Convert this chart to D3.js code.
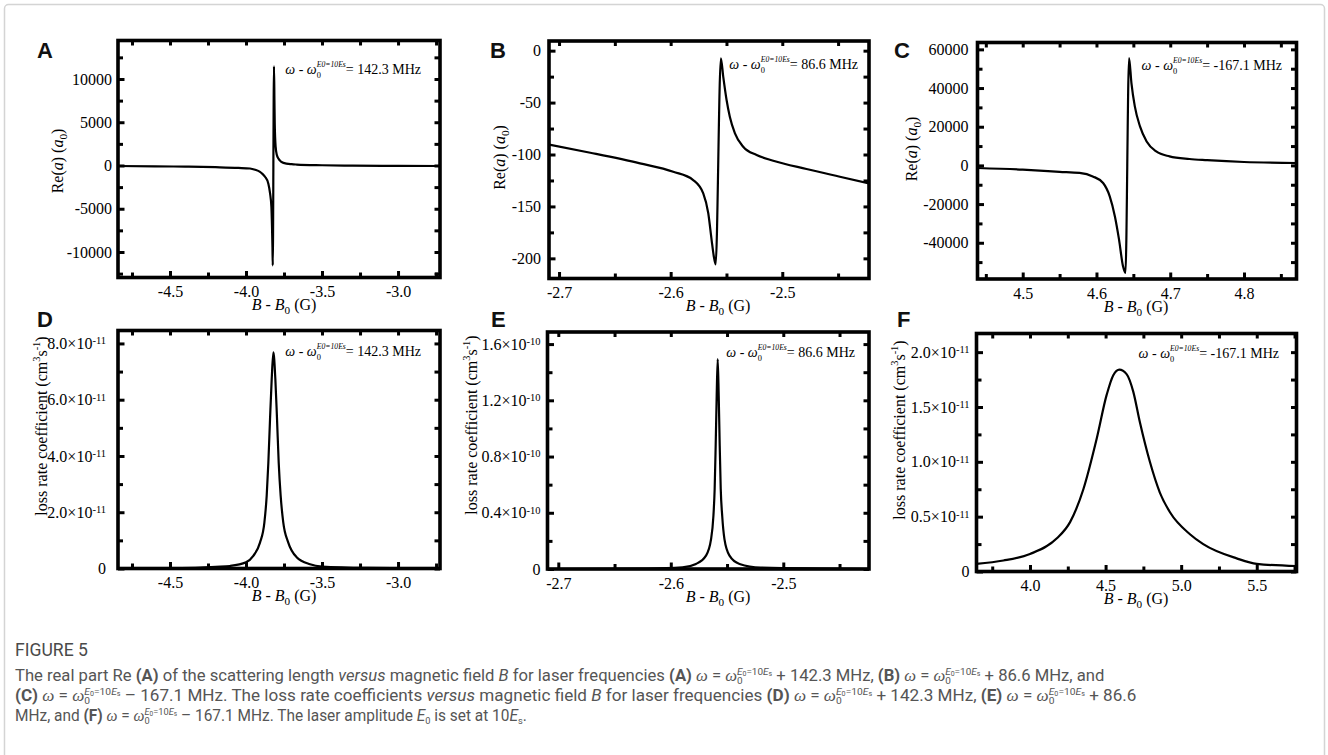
<!DOCTYPE html>
<html>
<head>
<meta charset="utf-8">
<script src="https://cdn.jsdelivr.net/npm/d3@7"></script>
<style>
  body { margin: 0; background: #fff; }
  svg text { white-space: pre; }
</style>
</head>
<body>
<svg id="fig" width="1328" height="755"></svg>
<script>
const SERIF = "'Liberation Serif', 'Times New Roman', serif";
const SANS = "'Liberation Sans', Arial, sans-serif";
const NARROW = "'Liberation Sans Narrow', 'Roboto', 'Liberation Sans', sans-serif";

// curves: [B - B0 (G), value]
const reA = [[-4.842, -60], [-4.6, -100], [-4.4, -130], [-4.2, -200], [-4.05, -280], [-3.974, -350],
  [-3.94, -500], [-3.908, -740], [-3.89, -1000], [-3.875, -1300], [-3.853, -2100], [-3.842, -3200],
  [-3.833, -4800], [-3.829, -7100], [-3.826, -9500], [-3.824, -11550], [-3.816, 11470], [-3.813, 7500],
  [-3.811, 4850], [-3.805, 2150], [-3.797, 1200], [-3.787, 800], [-3.77, 450], [-3.754, 300],
  [-3.7, 150], [-3.666, 110], [-3.5, 30], [-3.3, -20], [-3.0, -40], [-2.724, -60]];
const reB = [[-2.709, -90.5], [-2.672, -98.3], [-2.6275, -108.5], [-2.5977, -116.6], [-2.5798, -124.6],
  [-2.5708, -137.4], [-2.5663, -156.6], [-2.5633, -182.4], [-2.5615, -197], [-2.5597, -205.8],
  [-2.555, -7.3], [-2.5529, -25], [-2.5499, -47.5], [-2.547, -63.6], [-2.5424, -79.6], [-2.535, -92.5],
  [-2.523, -100.5], [-2.5081, -106], [-2.4783, -114], [-2.4484, -121.4], [-2.4223, -127.8]];
const reC = [[4.4387, -1340], [4.5, -2200], [4.55, -3300], [4.577, -3900], [4.595, -5700], [4.609, -9100],
  [4.618, -16000], [4.625, -26400], [4.6306, -38400], [4.636, -52200], [4.6393, -55600], [4.6442, 55500],
  [4.6474, 42600], [4.652, 30500], [4.659, 20200], [4.668, 12400], [4.681, 7200], [4.699, 4650],
  [4.726, 3300], [4.75, 2700], [4.8, 1750], [4.8712, 1240]];
const lossD = [[-4.842, 0], [-4.5, 0.01e-11], [-4.3, 0.03e-11], [-4.2, 0.06e-11], [-4.105, 0.09e-11],
  [-4.0, 0.22e-11], [-3.952, 0.45e-11], [-3.908, 0.92e-11], [-3.879, 1.64e-11], [-3.864, 2.58e-11],
  [-3.853, 3.77e-11], [-3.842, 5.31e-11], [-3.831, 6.73e-11], [-3.82, 7.68e-11], [-3.807, 6.73e-11],
  [-3.796, 5.31e-11], [-3.785, 3.77e-11], [-3.772, 2.58e-11], [-3.755, 1.64e-11], [-3.722, 0.92e-11],
  [-3.667, 0.40e-11], [-3.579, 0.15e-11], [-3.5, 0.07e-11], [-3.2, 0.02e-11], [-2.724, 0]];
const lossE = [[-2.7096, 0], [-2.62, 0.003e-10], [-2.5896, 0.012e-10], [-2.5776, 0.036e-10],
  [-2.5687, 0.095e-10], [-2.5642, 0.213e-10], [-2.5621, 0.379e-10], [-2.561, 0.569e-10],
  [-2.5601, 0.877e-10], [-2.5592, 1.232e-10], [-2.5583, 1.493e-10], [-2.5574, 1.232e-10],
  [-2.5565, 0.877e-10], [-2.5556, 0.569e-10], [-2.5543, 0.379e-10], [-2.5523, 0.213e-10],
  [-2.5478, 0.095e-10], [-2.5389, 0.036e-10], [-2.52, 0.01e-10], [-2.4238, 0]];
const lossF = [[3.646, 0.07e-11], [3.824, 0.10e-11], [4.0, 0.16e-11], [4.176, 0.30e-11], [4.265, 0.45e-11],
  [4.353, 0.75e-11], [4.441, 1.21e-11], [4.507, 1.61e-11], [4.551, 1.79e-11], [4.591, 1.84e-11],
  [4.639, 1.80e-11], [4.683, 1.64e-11], [4.727, 1.36e-11], [4.793, 1.00e-11], [4.859, 0.72e-11],
  [4.926, 0.54e-11], [5.058, 0.34e-11], [5.146, 0.25e-11], [5.367, 0.12e-11], [5.5, 0.07e-11],
  [5.763, 0.05e-11]];

// tick values
const xTicksA = [-4.5, -4.0, -3.5, -3.0], xMinorA = [-4.75, -4.25, -3.75, -3.25, -2.75];
const xTicksB = [-2.7, -2.6, -2.5], xMinorB = [-2.65, -2.55, -2.45];
const xTicksC = [4.5, 4.6, 4.7, 4.8], xMinorC = [4.45, 4.55, 4.65, 4.75, 4.85];
const xTicksF = [4.0, 4.5, 5.0, 5.5], xMinorF = [3.75, 4.25, 4.75, 5.25, 5.75];
const yTicksA = [-10000, -5000, 0, 5000, 10000], yMinorA = [-12500, -7500, -2500, 2500, 7500, 12500];
const yTicksB = [-200, -150, -100, -50, 0], yMinorB = [-175, -125, -75, -25];
const yTicksC = [-40000, -20000, 0, 20000, 40000, 60000], yMinorC = [-50000, -30000, -10000, 10000, 30000, 50000];
const yTicksD = [0, 2e-11, 4e-11, 6e-11, 8e-11], yMinorD = [1e-11, 3e-11, 5e-11, 7e-11];
const yTicksE = [0, 0.4e-10, 0.8e-10, 1.2e-10, 1.6e-10], yMinorE = [0.2e-10, 0.6e-10, 1.0e-10, 1.4e-10];
const yTicksF = [0, 0.5e-11, 1.0e-11, 1.5e-11, 2.0e-11], yMinorF = [0.25e-11, 0.75e-11, 1.25e-11, 1.75e-11];

const panelIds = ["A", "B", "C", "D", "E", "F"];
const detunings = ["142.3", "86.6", "-167.1", "142.3", "86.6", "-167.1"];

// rich text: segments {t, st, w, off (em), sz, back, fam}
function richText(sel, segs, fs) {
  let cur = 0, prevW = 0;
  segs.forEach(s => {
    const off = (s.off || 0) * fs;
    const ts = sel.append("tspan")
      .attr("dy", off - cur)
      .attr("font-size", fs * (s.sz || 1))
      .text(s.t);
    if (s.st) ts.attr("font-style", s.st);
    if (s.w) ts.attr("font-weight", s.w);
    if (s.fam) ts.attr("font-family", s.fam);
    if (s.back) ts.attr("dx", -prevW);
    cur = off;
    prevW = ts.node().getComputedTextLength();
  });
}

const svg = d3.select("#fig");
svg.append("rect").attr("width", 1328).attr("height", 755).attr("fill", "#fff");
svg.append("rect").attr("x", 4.5).attr("y", 4.5).attr("width", 1320).attr("height", 780)
  .attr("rx", 4).attr("fill", "none").attr("stroke", "#d4d4d4").attr("stroke-width", 1.5);

const panels = [
  { data: reA, box: [118, 40.5, 440, 277.5], xd: [-4.842, -2.724], yd: [-12950, 14450],
    xt: xTicksA, xm: xMinorA, yt: yTicksA, ym: yMinorA, exp: null, pad: 6,
    xTitle: 284, yTitle: [63, 161], note: [421, 73.5], lab: [37, 58] },
  { data: reB, box: [549, 41, 869, 278.5], xd: [-2.709, -2.4223], yd: [-219.4, 9.3],
    xt: xTicksB, xm: xMinorB, yt: yTicksB, ym: yMinorB, exp: null, pad: 8,
    xTitle: 718, yTitle: [504.5, 157.5], note: [858, 68.5], lab: [490, 58] },
  { data: reC, box: [977.5, 42.5, 1296.5, 279], xd: [4.4387, 4.8712], yd: [-58740, 63550],
    xt: xTicksC, xm: xMinorC, yt: yTicksC, ym: yMinorC, exp: null, pad: 9,
    xTitle: 1136, yTitle: [916.5, 149], note: [1282, 70], lab: [894, 58] },
  { data: lossD, box: [118, 330.5, 440, 568.5], xd: [-4.842, -2.724], yd: [0, 8.46e-11],
    xt: xTicksA, xm: xMinorA, yt: yTicksD, ym: yMinorD, exp: -11, pad: 12,
    xTitle: 284, yTitle: [46.5, 426], note: [421, 355.5], lab: [37, 327] },
  { data: lossE, box: [547.5, 332, 869, 569], xd: [-2.7096, -2.4238], yd: [0, 1.686e-10],
    xt: xTicksB, xm: xMinorB, yt: yTicksE, ym: yMinorE, exp: -10, pad: 7,
    xTitle: 718, yTitle: [476.5, 425], note: [855, 357], lab: [491, 327] },
  { data: lossF, box: [976.5, 333.5, 1296.5, 571.5], xd: [3.646, 5.763], yd: [0, 2.17e-11],
    xt: xTicksF, xm: xMinorF, yt: yTicksF, ym: yMinorF, exp: -11, pad: 7,
    xTitle: 1136, yTitle: [904.5, 430], note: [1279, 358], lab: [897, 327] }
];

function styleAxis(a) {
  a.select(".domain").remove();
  a.selectAll(".tick line").attr("stroke", "#000").attr("stroke-width", 3);
  a.selectAll(".tick text").attr("fill", "#000").attr("font-family", SERIF).attr("font-size", 16);
}

function drawPanel(p, i) {
  const [x0, y0, x1, y1] = p.box;
  const x = d3.scaleLinear().domain(p.xd).range([x0, x1]);
  const y = d3.scaleLinear().domain(p.yd).range([y1, y0]);
  const inX = v => v >= p.xd[0] && v <= p.xd[1];
  const inY = v => v >= p.yd[0] && v <= p.yd[1];
  const g = svg.append("g");

  const clipId = "clip" + i;
  g.append("clipPath").attr("id", clipId).append("rect")
    .attr("x", x0).attr("y", y0).attr("width", x1 - x0).attr("height", y1 - y0);

  g.append("path").datum(p.data)
    .attr("clip-path", `url(#${clipId})`)
    .attr("fill", "none").attr("stroke", "#000").attr("stroke-width", 2.2)
    .attr("stroke-linejoin", "round")
    .attr("d", d3.line().x(d => x(d[0])).y(d => y(d[1])).curve(d3.curveMonotoneX));

  const allX = p.xt.concat(p.xm.filter(inX));
  const allY = p.yt.concat(p.ym.filter(inY));

  // bottom axis with labels, other sides only ticks
  styleAxis(g.append("g").attr("transform", `translate(0,${y1})`)
    .call(d3.axisBottom(x).tickValues(p.xt).tickSize(-6.5).tickPadding(8.5).tickFormat(d => d.toFixed(1))));
  styleAxis(g.append("g").attr("transform", `translate(0,${y1})`)
    .call(d3.axisBottom(x).tickValues(p.xm.filter(inX)).tickSize(-5).tickFormat("")));
  styleAxis(g.append("g").attr("transform", `translate(0,${y0})`)
    .call(d3.axisTop(x).tickValues(allX).tickSize(-5).tickFormat("")));
  styleAxis(g.append("g").attr("transform", `translate(${x1},0)`)
    .call(d3.axisRight(y).tickValues(allY).tickSize(-5.5).tickFormat("")));

  const left = g.append("g").attr("transform", `translate(${x0},0)`)
    .call(d3.axisLeft(y).tickValues(p.yt).tickSize(-6.5).tickPadding(p.pad).tickFormat(d => String(d)));
  styleAxis(left);
  styleAxis(g.append("g").attr("transform", `translate(${x0},0)`)
    .call(d3.axisLeft(y).tickValues(p.ym.filter(inY)).tickSize(-5).tickFormat("")));
  if (p.exp !== null) {
    left.selectAll(".tick text").each(function(d) {
      const t = d3.select(this);
      if (d === 0) return;
      t.text("");
      t.append("tspan").text((d / Math.pow(10, p.exp)).toFixed(1) + "×10");
      t.append("tspan").attr("dy", "-0.45em").attr("font-size", 10.5).text(String(p.exp));
    });
  }

  g.append("rect").attr("x", x0).attr("y", y0).attr("width", x1 - x0).attr("height", y1 - y0)
    .attr("fill", "none").attr("stroke", "#000").attr("stroke-width", 3.6);

  // axis titles
  const xt = g.append("text").attr("x", p.xTitle).attr("y", y1 + 32.5)
    .attr("text-anchor", "middle").attr("font-family", SERIF).attr("fill", "#000");
  richText(xt, [{ t: "B", st: "italic" }, { t: " - " }, { t: "B", st: "italic" },
    { t: "0", off: 0.25, sz: 0.7 }, { t: " (G)", off: 0 }], 16);

  const yt = g.append("text")
    .attr("transform", `translate(${p.yTitle[0]},${p.yTitle[1]}) rotate(-90)`)
    .attr("text-anchor", "middle").attr("font-family", SERIF).attr("fill", "#000");
  if (p.exp === null) {
    richText(yt, [{ t: "Re(" }, { t: "a", st: "italic" }, { t: ") (" }, { t: "a", st: "italic" },
      { t: "0", off: 0.25, sz: 0.7 }, { t: ")", off: 0 }], 16);
  } else {
    richText(yt, [{ t: "loss rate coefficient (cm" }, { t: "3", off: -0.4, sz: 0.65 },
      { t: "s", off: 0 }, { t: "-1", off: -0.4, sz: 0.65 }, { t: ")", off: 0 }], 16);
  }

  // detuning note
  const nt = g.append("text").attr("x", p.note[0]).attr("y", p.note[1])
    .attr("text-anchor", "end").attr("font-family", SERIF).attr("fill", "#000");
  richText(nt, [{ t: "ω", st: "italic" }, { t: " - " }, { t: "ω", st: "italic" },
    { t: "0", off: 0.3, sz: 0.6 }, { t: "E0=10Es", st: "italic", off: -0.5, sz: 0.55, back: true },
    { t: "= " + detunings[i] + " MHz", off: 0 }], 14);

  g.append("text").attr("x", p.lab[0]).attr("y", p.lab[1])
    .attr("font-family", SANS).attr("font-weight", "bold").attr("font-size", 22)
    .attr("fill", "#111").text(panelIds[i]);
}

panels.forEach(drawPanel);

// caption
const omega = () => [
  { t: "ω", st: "italic", fam: SERIF },
  { t: " = " },
  { t: "ω", st: "italic", fam: SERIF },
  { t: "0", off: 0.2, sz: 0.6 },
  { t: "E", st: "italic", off: -0.38, sz: 0.6, back: true },
  { t: "0", off: -0.3, sz: 0.42 },
  { t: "=10", off: -0.38, sz: 0.6 },
  { t: "E", st: "italic", off: -0.38, sz: 0.6 },
  { t: "s", off: -0.3, sz: 0.42 }
];
const B = t => ({ t, w: "bold", off: 0 });
const N = t => ({ t, off: 0 });
const I = t => ({ t, st: "italic", off: 0 });

const captionLines = [
  { y: 681, w: 1090, segs: [N("The real part Re "), B("(A)"), N(" of the scattering length "), I("versus"),
      N(" magnetic field "), I("B"), N(" for laser frequencies "), B("(A)"), N(" "), ...omega(),
      N(" + 142.3 MHz, "), B("(B)"), N(" "), ...omega(), N(" + 86.6 MHz, and")] },
  { y: 701, w: 1122, segs: [B("(C)"), N(" "), ...omega(), N(" – 167.1 MHz. The loss rate coefficients "),
      I("versus"), N(" magnetic field "), I("B"), N(" for laser frequencies "), B("(D)"), N(" "), ...omega(),
      N(" + 142.3 MHz, "), B("(E)"), N(" "), ...omega(), N(" + 86.6")] },
  { y: 721, w: 512, segs: [N("MHz, and "), B("(F)"), N(" "), ...omega(),
      N(" – 167.1 MHz. The laser amplitude "), I("E"), { t: "0", off: 0.2, sz: 0.6 },
      N(" is set at 10"), I("E"), { t: "s", off: 0.2, sz: 0.6 }, N(".")] }
];

function fitText(y, width, build, fs, color) {
  const g = svg.append("g").attr("transform", `translate(15,${y})`);
  const t = g.append("text").attr("x", 0).attr("y", 0)
    .attr("font-family", NARROW).attr("font-size", fs).attr("fill", color);
  build(t);
  const w = t.node().getBBox().width;
  g.attr("transform", `translate(15,${y}) scale(${width / w},1)`);
}

fitText(656, 73, t => t.text("FIGURE 5"), 19, "#4a4a4a");
captionLines.forEach(l => fitText(l.y, l.w, t => richText(t, l.segs, 16.5), 16.5, "#555"));
</script>
</body>
</html>
